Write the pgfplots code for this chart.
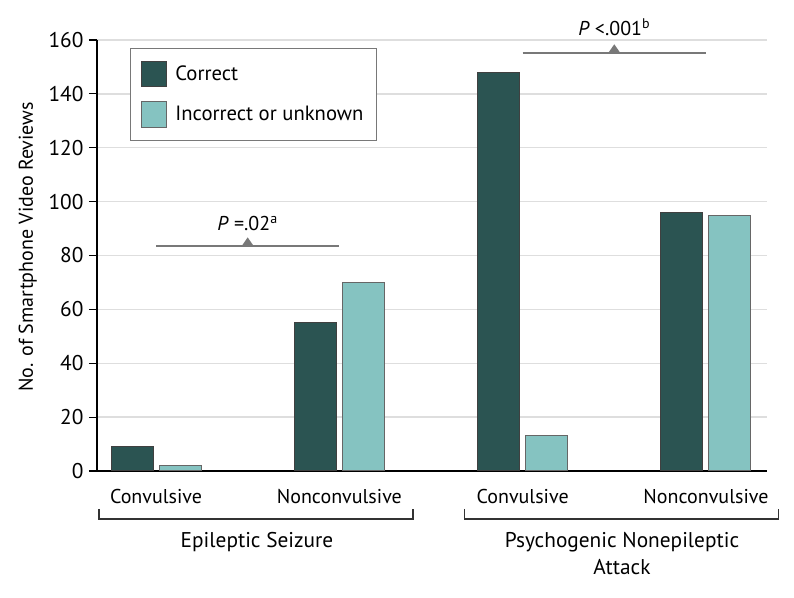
\documentclass[border=0pt]{standalone}
\usepackage{fontspec}
\setmainfont{PT Sans}
\usepackage{pgfplots}
\pgfplotsset{compat=1.18}
\definecolor{dteal}{RGB}{43,84,82}
\definecolor{lteal}{RGB}{133,195,193}
\definecolor{gridgray}{RGB}{222,222,222}
\definecolor{anngray}{RGB}{120,120,120}
\newcommand{\fs}{\fontsize{15}{18}\selectfont}
\begin{document}
\fs
\begin{tikzpicture}
\begin{axis}[
  at={(0,0)}, anchor=south west,
  scale only axis, width=502.5pt, height=323.25pt,
  xmin=-0.322, xmax=3.333, ymin=0, ymax=160,
  axis x line*=bottom, axis y line*=left,
  axis line style={black, line width=0.9pt},
  ytick={0,20,...,160},
  xtick={0,1,2,3},
  xticklabels={Convulsive,Nonconvulsive,Convulsive,Nonconvulsive},
  xtick style={draw=none},
  ytick style={black, line width=0.9pt},
  major tick length=6pt, tick align=outside,
  ymajorgrids, grid style={gridgray, line width=1.1pt},
  ybar=4.5pt, bar width=31.5pt,
  clip=false,
  tick label style={font=\fs},
  yticklabel style={font=\fontsize{16}{19}\selectfont, xshift=1pt},
  xticklabel style={anchor=base, yshift=-18.75pt},
  /pgf/number format/assume math mode=true,
  ylabel={No. of Smartphone Video Reviews},
  ylabel style={font=\fs, at={([xshift=-52pt]rel axis cs:0,0.52)}, anchor=center},
  legend image code/.code={\draw[#1] (0pt,-9.4pt) rectangle (18.75pt,9.4pt); \path (23pt,0pt);},
  legend style={at={(rel axis cs:0.049,0.981)}, anchor=north west,
    draw=anngray, line width=0.8pt, fill=white,
    font=\fontsize{15.5}{18}\selectfont,
    inner xsep=8pt, inner ysep=9.5pt, row sep=10.5pt},
  legend cell align=left,
]
\addplot[fill=dteal, draw=black!75, line width=0.75pt] coordinates {(0,9) (1,55) (2,148) (3,96)};
\addlegendentry{Correct}
\addplot[fill=lteal, draw=black!60, line width=0.75pt] coordinates {(0,2) (1,70) (2,13) (3,95)};
\addlegendentry{Incorrect or unknown}

% significance annotations
\draw[anngray, line width=0.9pt] (axis cs:0,83.5) -- (axis cs:1,83.5);
\fill[anngray] ([xshift=-4.5pt]axis cs:0.5,83.5) -- ([xshift=4.5pt]axis cs:0.5,83.5) -- ([yshift=6.5pt]axis cs:0.5,83.5) -- cycle;
\node[anchor=base, yshift=12pt, inner sep=0pt] at (axis cs:0.5,83.5) {\textit{P} =.02\textsuperscript{a}};
\draw[anngray, line width=0.9pt] (axis cs:2,155.2) -- (axis cs:3,155.2);
\fill[anngray] ([xshift=-4.5pt]axis cs:2.5,155.2) -- ([xshift=4.5pt]axis cs:2.5,155.2) -- ([yshift=6.5pt]axis cs:2.5,155.2) -- cycle;
\node[anchor=base, yshift=12.75pt, inner sep=0pt] at (axis cs:2.5,155.2) {\textit{P} <.001\textsuperscript{b}};

% group brackets
\draw[black!80, line width=0.8pt] ([yshift=-28.5pt]axis cs:-0.311,0) -- ([yshift=-36pt]axis cs:-0.311,0) -- ([yshift=-36pt]axis cs:1.402,0) -- ([yshift=-28.5pt]axis cs:1.402,0);
\draw[black!80, line width=0.8pt] ([yshift=-28.5pt]axis cs:1.685,0) -- ([yshift=-36pt]axis cs:1.685,0) -- ([yshift=-36pt]axis cs:3.398,0) -- ([yshift=-28.5pt]axis cs:3.398,0);
\node[anchor=base, inner sep=0pt, yshift=-57.75pt, font=\fontsize{16}{19}\selectfont] at (axis cs:0.551,0) {Epileptic Seizure};
\node[anchor=base, inner sep=0pt, yshift=-57.75pt, font=\fontsize{16}{19}\selectfont] at (axis cs:2.542,0) {Psychogenic Nonepileptic};
\node[anchor=base, inner sep=0pt, yshift=-78pt, font=\fontsize{16}{19}\selectfont] at (axis cs:2.542,0) {Attack};
\end{axis}
\pgfresetboundingbox
\path[use as bounding box] (-72.75pt,-95.25pt) rectangle (522.75pt,353.25pt);
\end{tikzpicture}
\end{document}
